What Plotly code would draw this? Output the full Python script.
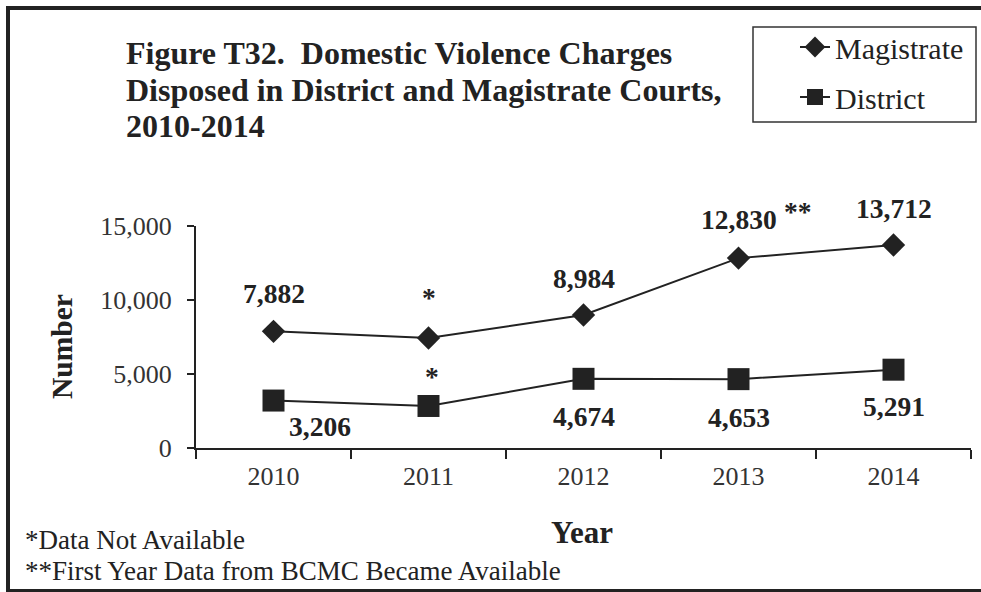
import plotly.graph_objects as go

years = ["2010", "2011", "2012", "2013", "2014"]
magistrate = [7882, 7430, 8984, 12830, 13712]
district = [3206, 2840, 4674, 4653, 5291]
mag_labels = ["7,882", "*", "8,984", "12,830", "13,712"]
dist_labels = ["3,206", "*", "4,674", "4,653", "5,291"]
y_ticks = [0, 5000, 10000, 15000]
title_lines = ["Figure T32.\u00a0 Domestic Violence Charges",
               "Disposed in District and Magistrate Courts,",
               "2010-2014"]
footnotes = ["*Data Not Available", "**First Year Data from BCMC Became Available"]

W, H = 981, 592
L, R, T, B = 196, 10, 226, 144
PW, PH = W - L - R, H - T - B
SERIF = "Liberation Serif, Times New Roman, serif"
INK = "#222222"


def px_x(px):
    return (px - L) / PW


def px_y(py):
    return (H - B - py) / PH


fig = go.Figure()
fig.add_trace(go.Scatter(
    x=years, y=magistrate, name="Magistrate", mode="lines+markers",
    line=dict(color=INK, width=2), legendgroup="a",
    marker=dict(symbol="diamond", size=18, color=INK)))
fig.add_trace(go.Scatter(
    x=years, y=district, name="District", mode="lines+markers",
    line=dict(color=INK, width=2), legendgroup="b",
    marker=dict(symbol="square", size=22, color=INK)))

LBL = 27.5
ann = []
mag_shift = [(0, 38), (0, 41), (0, 37), (0, 39), (0, 37)]
dist_shift = [(46, -26), (3, 29), (0, -38), (0, -38), (0, -37)]
for i, (v, lab, (dx, dy)) in enumerate(zip(magistrate, mag_labels, mag_shift)):
    ann.append(dict(x=i, y=v, xref="x", yref="y", text=lab, showarrow=False,
                    xshift=dx, yshift=dy,
                    font=dict(family=SERIF, size=LBL, color=INK, weight="bold")))
for i, (v, lab, (dx, dy)) in enumerate(zip(district, dist_labels, dist_shift)):
    ann.append(dict(x=i, y=v, xref="x", yref="y", text=lab, showarrow=False,
                    xshift=dx, yshift=dy,
                    font=dict(family=SERIF, size=LBL, color=INK, weight="bold")))
ann.append(dict(x=3, y=magistrate[3], xref="x", yref="y", text="**",
                showarrow=False, xshift=59, yshift=47,
                font=dict(family=SERIF, size=LBL, color=INK, weight="bold")))

for line, cy in zip(title_lines, [53, 90, 126]):
    ann.append(dict(x=px_x(124), y=px_y(cy), xref="paper", yref="paper",
                    xanchor="left", yanchor="middle", text=line, showarrow=False,
                    font=dict(family=SERIF, size=32, color=INK, weight="bold")))

for line, cy in zip(footnotes, [540, 571]):
    ann.append(dict(x=px_x(23), y=px_y(cy), xref="paper", yref="paper",
                    xanchor="left", yanchor="middle", text=line, showarrow=False,
                    font=dict(family=SERIF, size=27, color=INK)))

ann.append(dict(x=px_x(62), y=px_y(347), xref="paper", yref="paper",
                xanchor="center", yanchor="middle", text="Number", textangle=-90,
                showarrow=False,
                font=dict(family=SERIF, size=29.5, color=INK, weight="bold")))
ann.append(dict(x=px_x(582), y=px_y(532), xref="paper", yref="paper",
                xanchor="center", yanchor="middle", text="Year",
                showarrow=False,
                font=dict(family=SERIF, size=31, color=INK, weight="bold")))

shapes = [
    dict(type="rect", xref="paper", yref="paper",
         x0=px_x(8), x1=px_x(990), y0=px_y(591), y1=px_y(8),
         line=dict(color=INK, width=4), layer="below"),
    dict(type="rect", xref="paper", yref="paper",
         x0=px_x(753), x1=px_x(976), y0=px_y(122), y1=px_y(27),
         line=dict(color="#333333", width=1.5)),
]

fig.update_layout(
    width=W, height=H,
    margin=dict(l=L, r=R, t=T, b=B, autoexpand=False),
    paper_bgcolor="white", plot_bgcolor="white",
    showlegend=True,
    legend=dict(x=px_x(795), y=px_y(21), xanchor="left", yanchor="top",
                xref="paper", yref="paper",
                font=dict(family=SERIF, size=30, color=INK),
                bgcolor="rgba(0,0,0,0)", borderwidth=0,
                traceorder="grouped", tracegroupgap=8),
    annotations=ann, shapes=shapes,
    xaxis=dict(type="category", range=[-0.5, 4.5], tickson="boundaries",
               ticks="outside", ticklen=9, tickwidth=2, tickcolor=INK,
               showline=True, linecolor=INK, linewidth=2, showgrid=False,
               zeroline=False, ticklabelstandoff=4,
               tickfont=dict(family=SERIF, size=26, color="#333333")),
    yaxis=dict(range=[0, 15000], tickvals=y_ticks, tickformat=",",
               ticks="outside", ticklen=7, tickwidth=2, tickcolor=INK,
               showline=True, linecolor=INK, linewidth=2, showgrid=False,
               zeroline=False, ticklabelstandoff=10,
               tickfont=dict(family=SERIF, size=26, color="#333333")),
)

fig.write_html("out.html", config={"displayModeBar": False},
               post_script="document.body.style.margin='0';document.body.style.overflow='hidden';")
